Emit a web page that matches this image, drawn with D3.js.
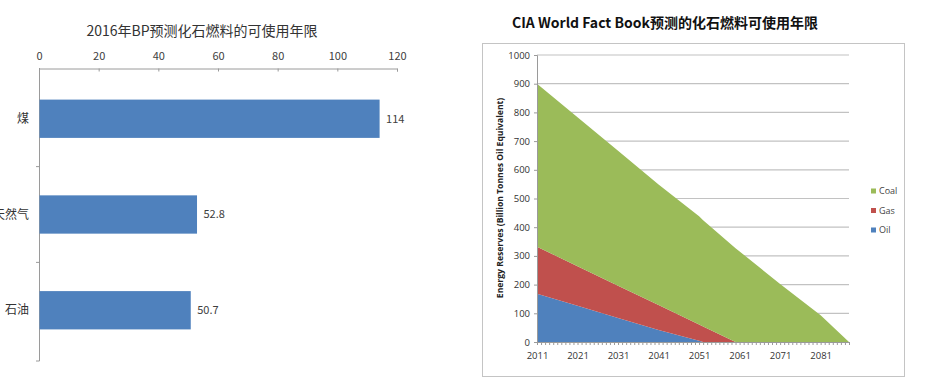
<!DOCTYPE html>
<html>
<head>
<meta charset="utf-8">
<script src="https://cdn.jsdelivr.net/npm/d3@7"></script>
<style>
  body { margin: 0; background: #fff; }
  svg { display: block; }
  text { font-family: "Noto Sans CJK SC", "Noto Sans", sans-serif; }
  .r text { font-family: "Open Sans", "Noto Sans", sans-serif; }
</style>
</head>
<body>
<script>
// DATA - left chart (BP 2016)
var bpCats = ["煤", "天然气", "石油"];
var bpValues = [114, 52.8, 50.7];
var bpTicks = [0, 20, 40, 60, 80, 100, 120];

// DATA - right chart (CIA World Fact Book), billion tonnes oil equivalent, stacked
var years = [2011, 2021, 2031, 2041, 2051, 2052, 2060, 2071, 2081, 2088];
var oil  = [168, 126, 84, 42, 4, 0, 0, 0, 0, 0];
var gas  = [164, 138, 112, 87, 57, 54, 0, 0, 0, 0];
var coal = [568, 519, 470, 420, 377, 370, 327, 202, 93, 0];
var seriesNames = ["Coal", "Gas", "Oil"];
var yTicks = [0, 100, 200, 300, 400, 500, 600, 700, 800, 900, 1000];
var xLabels = [2011, 2021, 2031, 2041, 2051, 2061, 2071, 2081];

var svg = d3.select("body").append("svg")
    .attr("width", 944)
    .attr("height", 389);

// ---------- left chart ----------
var left = svg.append("g");

var xL = d3.scaleLinear().domain([0, 120]).range([39, 397]);
var yL = d3.scaleBand().domain(bpCats).range([68, 361])
    .paddingInner(0.6).paddingOuter(0.33);

left.append("text")
    .attr("x", 202).attr("y", 36)
    .attr("text-anchor", "middle")
    .attr("font-size", 14)
    .attr("fill", "#333")
    .text("2016年BP预测化石燃料的可使用年限");

var topAxis = left.append("g")
    .attr("transform", "translate(0,68.5)")
    .call(d3.axisTop(xL).tickValues(bpTicks).tickSize(-3).tickPadding(9));
topAxis.selectAll("path, line").attr("stroke", "#9a9a9a");
topAxis.selectAll("text").attr("font-size", 11).attr("fill", "#404040")
    .style("font-family", "\"Noto Sans CJK SC\", sans-serif");

// vertical category axis with ticks at band boundaries
var gap = (yL.step() - yL.bandwidth()) / 2;
var bounds = bpCats.map(function(c) { return yL(c) - gap; }).concat([361]);
left.append("line")
    .attr("x1", 39.5).attr("x2", 39.5)
    .attr("y1", 68).attr("y2", 361)
    .attr("stroke", "#9a9a9a");
left.selectAll(".bt").data(bounds.slice(1)).enter().append("line")
    .attr("x1", 36).attr("x2", 39.5)
    .attr("y1", function(d) { return d; }).attr("y2", function(d) { return d; })
    .attr("stroke", "#9a9a9a");

left.selectAll("rect").data(bpValues).enter().append("rect")
    .attr("x", xL(0) + 0.5)
    .attr("y", function(d, i) { return yL(bpCats[i]); })
    .attr("width", function(d) { return xL(d) - xL(0); })
    .attr("height", yL.bandwidth())
    .attr("fill", "#4f81bd");

left.selectAll(".cat").data(bpCats).enter().append("text")
    .attr("x", 29)
    .attr("y", function(d) { return yL(d) + yL.bandwidth() / 2; })
    .attr("dy", "0.35em")
    .attr("text-anchor", "end")
    .attr("font-size", 12)
    .attr("fill", "#333")
    .text(function(d) { return d; });

left.selectAll(".val").data(bpValues).enter().append("text")
    .attr("x", function(d) { return xL(d) + 7; })
    .attr("y", function(d, i) { return yL(bpCats[i]) + yL.bandwidth() / 2; })
    .attr("dy", "0.35em")
    .attr("font-size", 11)
    .attr("fill", "#404040")
    .text(function(d) { return d; });

// ---------- right chart ----------
var right = svg.append("g").attr("class", "r");

right.append("text")
    .attr("x", 665).attr("y", 28)
    .attr("text-anchor", "middle")
    .attr("font-size", 14)
    .attr("font-weight", "bold")
    .attr("fill", "#111")
    .style("font-family", "\"Noto Sans CJK SC\", sans-serif")
    .text("CIA World Fact Book预测的化石燃料可使用年限");

right.append("rect")
    .attr("x", 482.5).attr("y", 43.5)
    .attr("width", 422).attr("height", 333)
    .attr("fill", "#fff")
    .attr("stroke", "#c4c4c4");

var xR = d3.scaleLinear().domain([2011, 2088]).range([537, 849]);
var yR = d3.scaleLinear().domain([0, 1000]).range([342, 55]);

// gridlines
right.selectAll(".grid").data(yTicks.slice(1)).enter().append("line")
    .attr("x1", 537).attr("x2", 849)
    .attr("y1", function(d) { return yR(d); })
    .attr("y2", function(d) { return yR(d); })
    .attr("stroke", "#c2c2c2")
    .attr("stroke-width", 1.2);

var table = years.map(function(y, i) {
    return {year: y, Oil: oil[i], Gas: gas[i], Coal: coal[i]};
});
var stack = d3.stack().keys(["Oil", "Gas", "Coal"])(table);
var colors = {Oil: "#4f81bd", Gas: "#c0504d", Coal: "#9bbb59"};

var area = d3.area()
    .x(function(d) { return xR(d.data.year); })
    .y0(function(d) { return yR(d[0]); })
    .y1(function(d) { return yR(d[1]); });

right.selectAll(".layer").data(stack).enter().append("path")
    .attr("d", area)
    .attr("fill", function(d) { return colors[d.key]; });

// axes
var yAx = right.append("g")
    .attr("transform", "translate(537,0)")
    .call(d3.axisLeft(yR).tickValues(yTicks).tickSize(3).tickPadding(4)
        .tickFormat(d3.format("d")));
yAx.selectAll("path, line").attr("stroke", "#9a9a9a");
yAx.selectAll("text").attr("font-size", 9.5).attr("fill", "#333");

var xAx = right.append("g")
    .attr("transform", "translate(0,342)")
    .call(d3.axisBottom(xR).tickValues(d3.range(2011, 2089)).tickSize(3).tickPadding(7)
        .tickFormat(function(d) { return xLabels.indexOf(d) >= 0 ? d : ""; }));
xAx.selectAll("path, line").attr("stroke", "#9a9a9a");
xAx.selectAll("text").attr("font-size", 9.5).attr("fill", "#333");

right.append("text")
    .attr("transform", "translate(503,198) rotate(-90)")
    .attr("text-anchor", "middle")
    .attr("font-size", 8.6)
    .attr("font-weight", "bold")
    .attr("fill", "#222")
    .text("Energy Reserves (Billion Tonnes Oil Equivalent)");

// legend
var leg = right.selectAll(".leg").data(seriesNames).enter().append("g")
    .attr("transform", function(d, i) { return "translate(871," + (191 + i * 19.5) + ")"; });
leg.append("rect")
    .attr("x", 0).attr("y", -2.5)
    .attr("width", 5).attr("height", 5)
    .attr("fill", function(d) { return colors[d]; });
leg.append("text")
    .attr("x", 8).attr("dy", "0.35em")
    .attr("font-size", 9)
    .attr("fill", "#444")
    .text(function(d) { return d; });
</script>
</body>
</html>
